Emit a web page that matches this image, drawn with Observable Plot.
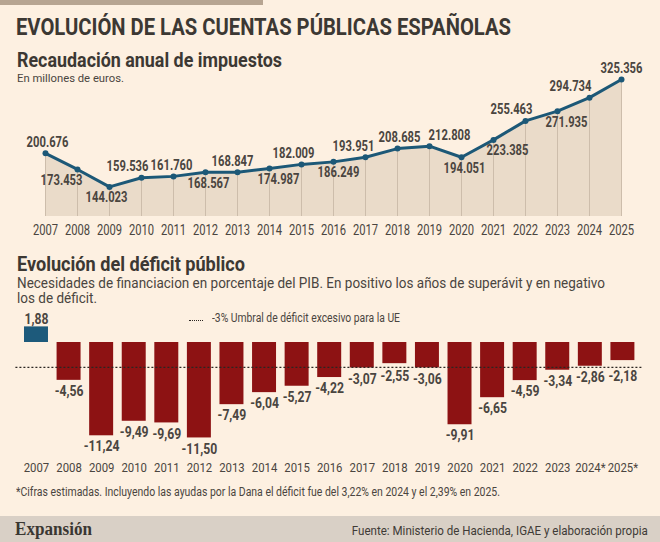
<!DOCTYPE html>
<html lang="es">
<head>
<meta charset="utf-8">
<script src="https://cdn.jsdelivr.net/npm/d3@7"></script>
<script src="https://cdn.jsdelivr.net/npm/@observablehq/plot@0.6"></script>
<style>
  html, body { margin: 0; padding: 0; background: #fdf0e1; }
  #page {
    position: relative; width: 660px; height: 542px; overflow: hidden;
    background: #fdf0e1; color: #3c3833;
    font-family: Roboto, "Noto Sans", sans-serif;
  }
  #page .abs { position: absolute; white-space: nowrap; line-height: 1; }
  .topbar { left: 0; top: 0; width: 263px; height: 5px; background: #b7a592; }
  .title { font-size: 24px; font-weight: 700; }
  .head { font-size: 20px; font-weight: 700; }
  .note { font-size: 11.5px; color: #4a4540; }
  .desc { font-size: 15px; color: #4a4540; }
  .footer { left: 0; top: 516px; width: 660px; height: 26px; background: #d9d0c6; }
  .brand { font-family: "Liberation Serif", "DejaVu Serif", serif; font-weight: 700; font-size: 18px; color: #3a3732; }
  .source { font-size: 13.5px; color: #3f3b36; }
  .dots { left: 189px; top: 320px; width: 14px; height: 0; border-top: 1.5px dotted #2b2622; }
  .chart svg { overflow: visible; background: transparent; display: block; }
</style>
</head>
<body>
<div id="page">
  <div class="abs topbar"></div>
  <div class="abs title" data-w="495" style="left:16px; top:15px;">EVOLUCIÓN DE LAS CUENTAS PÚBLICAS ESPAÑOLAS</div>
  <div class="abs head" data-w="265" style="left:17px; top:50px;">Recaudación anual de impuestos</div>
  <div class="abs note" data-w="107" style="left:17px; top:73px;">En millones de euros.</div>
  <div class="abs chart" id="revenue" style="left:0; top:55px;"></div>
  <div class="abs head" data-w="228" style="left:17px; top:254px;">Evolución del déficit público</div>
  <div class="abs desc" id="desc1" data-w="588" style="left:17px; top:275.5px;">Necesidades de financiacion en porcentaje del PIB. En positivo los años de superávit y en negativo</div>
  <div class="abs desc" id="desc2" style="left:17px; top:290.5px;">los de déficit.</div>
  <div class="abs chart" id="deficit" style="left:0; top:300px;"></div>
  <div class="abs dots"></div>
  <div class="abs note" data-w="188" style="left:212px; top:312px; font-size:12px;">-3% Umbral de déficit excesivo para la UE</div>
  <div class="abs note" data-w="484" style="left:16px; top:486px; font-size:12.5px;">*Cifras estimadas. Incluyendo las ayudas por la Dana el déficit fue del 3,22% en 2024 y el 2,39% en 2025.</div>
  <div class="abs footer"></div>
  <div class="abs brand" data-w="77" style="left:15px; top:520px;">Expansión</div>
  <div class="abs source" data-w="296" data-origin="right" style="right:12px; top:524px;">Fuente: Ministerio de Hacienda, IGAE y elaboración propia</div>
</div>
<script>
// Annual tax revenue, millions of euros
const years = [2007, 2008, 2009, 2010, 2011, 2012, 2013, 2014, 2015, 2016, 2017, 2018, 2019, 2020, 2021, 2022, 2023, 2024, 2025];
const revenue = [200676, 173453, 144023, 159536, 161760, 168567, 168847, 174987, 182009, 186249, 193951, 208685, 212808, 194051, 223385, 255463, 271935, 294734, 325356];

// General government balance, % of GDP
const deficitYears = ["2007", "2008", "2009", "2010", "2011", "2012", "2013", "2014", "2015", "2016", "2017", "2018", "2019", "2020", "2021", "2022", "2023", "2024*", "2025*"];
const deficit = [1.88, -4.56, -11.24, -9.49, -9.69, -11.50, -7.49, -6.04, -5.27, -4.22, -3.07, -2.55, -3.06, -9.91, -6.65, -4.59, -3.34, -2.86, -2.18];
const deficitThreshold = -3;

// Where each revenue label sits relative to its point, and a small horizontal nudge
const labelSide = ["above", "below", "below", "above", "above", "below", "above", "below", "above", "below", "above", "above", "above", "below", "below", "above", "below", "above", "above"];
const labelNudge = [2, -16, -3, -14, -2, 3, -5, 9, -8, 5, -12, 2, 20, 3, 14, -14, 9, -19, 0];

const es = d3.formatLocale({decimal: ",", thousands: ".", grouping: [3], currency: ["", " €"], minus: "-"});
const fmtThousands = es.format(",.0f");
const fmtPct = es.format(".2f");

const ink = "#4a4540";
const font = `Roboto, "Noto Sans", sans-serif`;

// Narrow every SVG label horizontally, keeping its anchor
function condense(svg, k) {
  svg.querySelectorAll("text").forEach(t => {
    const w = t.getComputedTextLength();
    if (w > 0) {
      t.setAttribute("textLength", (w * k).toFixed(2));
      t.setAttribute("lengthAdjust", "spacingAndGlyphs");
    }
  });
}

// ---- Revenue line chart ----
const revenueRows = years.map((year, i) => ({year, value: revenue[i], side: labelSide[i], nudge: labelNudge[i]}));
const revenueFloor = 94000;

const revenueChart = Plot.plot({
  width: 660,
  height: 195,
  marginLeft: 38,
  marginRight: 33,
  marginTop: 24,
  marginBottom: 34,
  style: {background: "transparent", fontFamily: font, overflow: "visible"},
  x: {type: "point", domain: years, padding: 0, axis: null},
  y: {domain: [revenueFloor, 325356], axis: null},
  marks: [
    Plot.areaY(revenueRows, {x: "year", y1: revenueFloor, y2: "value", fill: "#eadbc9"}),
    Plot.ruleX(revenueRows, {x: "year", y1: revenueFloor, y2: "value", stroke: "#cdbdab", strokeWidth: 1}),
    Plot.line(revenueRows, {x: "year", y: "value", stroke: "#1c5877", strokeWidth: 3}),
    Plot.dot(revenueRows, {x: "year", y: "value", r: 3, fill: "#1c5877"}),
    ...revenueRows.map(d => Plot.text([d], {
      x: "year", y: "value", text: r => fmtThousands(r.value),
      dx: d.nudge, dy: d.side === "above" ? -11 : 11,
      fontSize: 14, fontWeight: 700, fill: ink
    })),
    Plot.text(revenueRows, {x: "year", frameAnchor: "bottom", text: d => String(d.year), dy: 18, fontSize: 14, fill: ink})
  ]
});
document.getElementById("revenue").append(revenueChart);
condense(revenueChart, 0.8);

// ---- Deficit bar chart ----
const deficitRows = deficitYears.map((label, i) => ({label, value: deficit[i]}));

const deficitChart = Plot.plot({
  width: 660,
  height: 185,
  marginLeft: 15.4,
  marginRight: 17,
  marginTop: 25.4,
  marginBottom: 35.1,
  style: {background: "transparent", fontFamily: font, overflow: "visible"},
  x: {type: "band", domain: deficitYears, padding: 0.264, round: false, axis: null},
  y: {domain: [-13, 2], axis: null},
  marks: [
    Plot.barY(deficitRows, {x: "label", y: "value", fill: d => d.value > 0 ? "#1d5a7b" : "#8d1213"}),
    Plot.ruleY([deficitThreshold], {stroke: "#2b2622", strokeWidth: 1.3, strokeDasharray: "2,2"}),
    Plot.text(deficitRows.filter(d => d.value > 0), {
      x: "label", y: "value", text: d => fmtPct(d.value), lineAnchor: "bottom", dy: -3,
      fontSize: 14.5, fontWeight: 700, fill: ink
    }),
    Plot.text(deficitRows.filter(d => d.value < 0), {
      x: "label", y: d => Math.min(d.value, -2.7), text: d => fmtPct(d.value), dy: 11,
      fontSize: 14.5, fontWeight: 700, fill: ink
    }),
    Plot.text(deficitRows, {x: "label", frameAnchor: "bottom", text: "label", dy: 22, fontSize: 13.5, fill: ink})
  ]
});
document.getElementById("deficit").append(deficitChart);
condense(deficitChart, 0.84);

// Fit the HTML headings and notes to their set widths
function squeeze(el, factor, origin) {
  el.style.transformOrigin = `${origin} top`;
  el.style.transform = `scaleX(${factor})`;
}
let descFactor = 1;
document.querySelectorAll("#page [data-w]").forEach(el => {
  const w = el.getBoundingClientRect().width;
  const f = +el.dataset.w / w;
  if (el.id === "desc1") descFactor = f;
  squeeze(el, f, el.dataset.origin || "left");
});
squeeze(document.getElementById("desc2"), descFactor, "left");
</script>
</body>
</html>
